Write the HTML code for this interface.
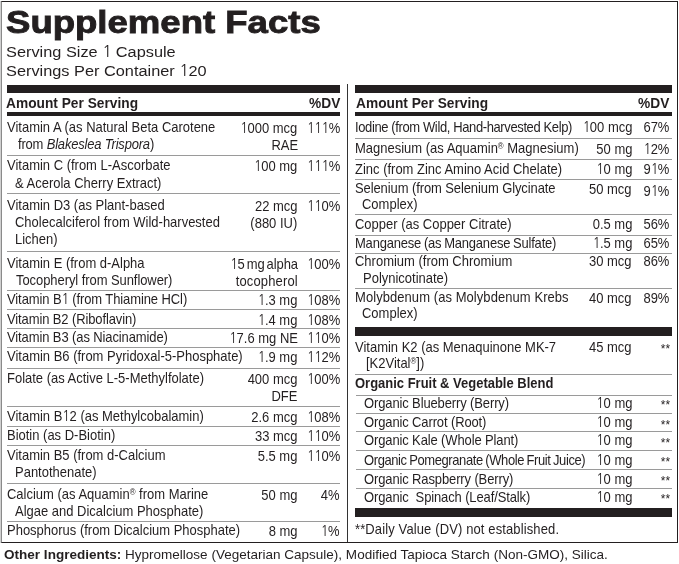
<!DOCTYPE html>
<html><head><meta charset="utf-8"><title>Supplement Facts</title>
<style>
html,body{margin:0;padding:0;background:#fff;}
body{width:679px;height:564px;position:relative;overflow:hidden;font-family:'Liberation Sans', Arial, sans-serif;color:#231f20;}
.t{position:absolute;white-space:nowrap;}
.r{position:absolute;}
.box{position:absolute;left:1px;top:1px;width:675px;height:540px;border:1px solid #231f20;border-left-color:#8a8a8a;box-shadow:-1px 0 0 #d0d0d0;}
.reg{font-size:8.6px;vertical-align:0;position:relative;top:-3.6px;}
.star{font-size:13px;position:relative;top:1.5px;}
.o{font-family:NanumGothic,'Liberation Sans',sans-serif;letter-spacing:-0.0507em;}
</style></head><body>
<div class="box"></div>
<div class="t" style="left:6px;top:6.6px;font-size:31.9px;line-height:31.9px;font-weight:bold;transform:scaleX(1.146);transform-origin:0 0;-webkit-text-stroke:0.9px #231f20;">Supplement Facts</div>
<div class="t" style="left:6px;top:44.13px;font-size:15.2px;line-height:15.2px;transform:scaleX(1.075);transform-origin:0 0;">Serving Size <span class="o">1</span> Capsule</div>
<div class="t" style="left:6px;top:63.13px;font-size:15.2px;line-height:15.2px;transform:scaleX(1.075);transform-origin:0 0;">Servings Per Container <span class="o">1</span>20</div>
<div class="r" style="left:7px;top:85px;width:333px;height:8px;background:#231f20"></div>
<div class="r" style="left:7px;top:112px;width:333px;height:4px;background:#231f20"></div>
<div class="t" style="left:6px;top:95.98px;font-size:14.2px;line-height:14.2px;font-weight:bold;transform:scaleX(0.968);transform-origin:0 0;">Amount Per Serving</div>
<div class="r" style="left:355px;top:85px;width:317px;height:8px;background:#231f20"></div>
<div class="r" style="left:355px;top:112px;width:317px;height:4px;background:#231f20"></div>
<div class="t" style="left:356px;top:95.98px;font-size:14.2px;line-height:14.2px;font-weight:bold;transform:scaleX(0.968);transform-origin:0 0;">Amount Per Serving</div>
<div class="t" style="right:339px;top:95.98px;font-size:14.2px;line-height:14.2px;font-weight:bold;transform:scaleX(0.968);transform-origin:100% 0;">%DV</div>
<div class="t" style="right:9.5px;top:95.98px;font-size:14.2px;line-height:14.2px;font-weight:bold;transform:scaleX(0.968);transform-origin:100% 0;">%DV</div>
<div class="r" style="left:347px;top:84px;width:1px;height:458px;background:#333"></div>
<div class="t" style="left:7px;top:119.98px;font-size:14.2px;line-height:14.2px;transform:scaleX(0.915);transform-origin:0 0;">Vitamin A (as Natural Beta Carotene</div>
<div class="t" style="left:18px;top:136.98px;font-size:14.2px;line-height:14.2px;transform:scaleX(0.915);transform-origin:0 0;letter-spacing:-0.2px;">from <i>Blakeslea Trispora</i>)</div>
<div class="t" style="right:381.3px;top:120.98px;font-size:14.2px;line-height:14.2px;transform:scaleX(0.915);transform-origin:100% 0;"><span class="o">1</span>000 mcg</div>
<div class="t" style="right:381.3px;top:137.98px;font-size:14.2px;line-height:14.2px;transform:scaleX(0.915);transform-origin:100% 0;">RAE</div>
<div class="t" style="right:339px;top:120.98px;font-size:14.2px;line-height:14.2px;transform:scaleX(0.915);transform-origin:100% 0;"><span class="o">1</span><span class="o">1</span><span class="o">1</span>%</div>
<div class="r" style="left:7px;top:155px;width:333px;height:1px;background:#9a9a9a"></div>
<div class="t" style="left:7px;top:157.98px;font-size:14.2px;line-height:14.2px;transform:scaleX(0.915);transform-origin:0 0;">Vitamin C (from L-Ascorbate</div>
<div class="t" style="left:15px;top:175.98px;font-size:14.2px;line-height:14.2px;transform:scaleX(0.915);transform-origin:0 0;">&amp; Acerola Cherry Extract)</div>
<div class="t" style="right:381.3px;top:158.98px;font-size:14.2px;line-height:14.2px;transform:scaleX(0.915);transform-origin:100% 0;"><span class="o">1</span>00 mg</div>
<div class="t" style="right:339px;top:158.98px;font-size:14.2px;line-height:14.2px;transform:scaleX(0.915);transform-origin:100% 0;"><span class="o">1</span><span class="o">1</span><span class="o">1</span>%</div>
<div class="r" style="left:7px;top:193px;width:333px;height:1px;background:#9a9a9a"></div>
<div class="t" style="left:7px;top:197.98px;font-size:14.2px;line-height:14.2px;transform:scaleX(0.915);transform-origin:0 0;">Vitamin D3 (as Plant-based</div>
<div class="t" style="left:15px;top:214.98px;font-size:14.2px;line-height:14.2px;transform:scaleX(0.915);transform-origin:0 0;">Cholecalciferol from Wild-harvested</div>
<div class="t" style="left:15px;top:231.98px;font-size:14.2px;line-height:14.2px;transform:scaleX(0.915);transform-origin:0 0;">Lichen)</div>
<div class="t" style="right:381.3px;top:198.98px;font-size:14.2px;line-height:14.2px;transform:scaleX(0.915);transform-origin:100% 0;">22 mcg</div>
<div class="t" style="right:381.3px;top:215.98px;font-size:14.2px;line-height:14.2px;transform:scaleX(0.915);transform-origin:100% 0;">(880 IU)</div>
<div class="t" style="right:339px;top:198.98px;font-size:14.2px;line-height:14.2px;transform:scaleX(0.915);transform-origin:100% 0;"><span class="o">1</span><span class="o">1</span>0%</div>
<div class="r" style="left:7px;top:251px;width:333px;height:1px;background:#9a9a9a"></div>
<div class="t" style="left:7px;top:255.98px;font-size:14.2px;line-height:14.2px;transform:scaleX(0.915);transform-origin:0 0;">Vitamin E (from d-Alpha</div>
<div class="t" style="left:15.5px;top:272.98px;font-size:14.2px;line-height:14.2px;transform:scaleX(0.915);transform-origin:0 0;letter-spacing:-0.07px;">Tocopheryl from Sunflower)</div>
<div class="t" style="right:381.3px;top:256.98px;font-size:14.2px;line-height:14.2px;transform:scaleX(0.915);transform-origin:100% 0;letter-spacing:-0.1px;word-spacing:-1.6px;"><span class="o">1</span>5 mg alpha</div>
<div class="t" style="right:381.3px;top:273.98px;font-size:14.2px;line-height:14.2px;transform:scaleX(0.915);transform-origin:100% 0;letter-spacing:0.15px;">tocopherol</div>
<div class="t" style="right:339px;top:256.98px;font-size:14.2px;line-height:14.2px;transform:scaleX(0.915);transform-origin:100% 0;"><span class="o">1</span>00%</div>
<div class="r" style="left:7px;top:290px;width:333px;height:1px;background:#9a9a9a"></div>
<div class="t" style="left:7px;top:291.98px;font-size:14.2px;line-height:14.2px;transform:scaleX(0.915);transform-origin:0 0;letter-spacing:-0.1px;">Vitamin B<span class="o">1</span> (from Thiamine HCl)</div>
<div class="t" style="right:381.3px;top:292.98px;font-size:14.2px;line-height:14.2px;transform:scaleX(0.915);transform-origin:100% 0;"><span class="o">1</span>.3 mg</div>
<div class="t" style="right:339px;top:292.98px;font-size:14.2px;line-height:14.2px;transform:scaleX(0.915);transform-origin:100% 0;"><span class="o">1</span>08%</div>
<div class="r" style="left:7px;top:309px;width:333px;height:1px;background:#9a9a9a"></div>
<div class="t" style="left:7px;top:311.98px;font-size:14.2px;line-height:14.2px;transform:scaleX(0.915);transform-origin:0 0;letter-spacing:-0.12px;">Vitamin B2 (Riboflavin)</div>
<div class="t" style="right:381.3px;top:312.98px;font-size:14.2px;line-height:14.2px;transform:scaleX(0.915);transform-origin:100% 0;"><span class="o">1</span>.4 mg</div>
<div class="t" style="right:339px;top:312.98px;font-size:14.2px;line-height:14.2px;transform:scaleX(0.915);transform-origin:100% 0;"><span class="o">1</span>08%</div>
<div class="r" style="left:7px;top:328px;width:333px;height:1px;background:#9a9a9a"></div>
<div class="t" style="left:7px;top:329.98px;font-size:14.2px;line-height:14.2px;transform:scaleX(0.915);transform-origin:0 0;letter-spacing:-0.11px;">Vitamin B3 (as Niacinamide)</div>
<div class="t" style="right:381.3px;top:330.98px;font-size:14.2px;line-height:14.2px;transform:scaleX(0.915);transform-origin:100% 0;"><span class="o">1</span>7.6 mg NE</div>
<div class="t" style="right:339px;top:330.98px;font-size:14.2px;line-height:14.2px;transform:scaleX(0.915);transform-origin:100% 0;"><span class="o">1</span><span class="o">1</span>0%</div>
<div class="r" style="left:7px;top:347px;width:333px;height:1px;background:#9a9a9a"></div>
<div class="t" style="left:7px;top:348.98px;font-size:14.2px;line-height:14.2px;transform:scaleX(0.915);transform-origin:0 0;">Vitamin B6 (from Pyridoxal-5-Phosphate)</div>
<div class="t" style="right:381.3px;top:349.98px;font-size:14.2px;line-height:14.2px;transform:scaleX(0.915);transform-origin:100% 0;"><span class="o">1</span>.9 mg</div>
<div class="t" style="right:339px;top:349.98px;font-size:14.2px;line-height:14.2px;transform:scaleX(0.915);transform-origin:100% 0;"><span class="o">1</span><span class="o">1</span>2%</div>
<div class="r" style="left:7px;top:368px;width:333px;height:1px;background:#9a9a9a"></div>
<div class="t" style="left:7px;top:370.98px;font-size:14.2px;line-height:14.2px;transform:scaleX(0.915);transform-origin:0 0;">Folate (as Active L-5-Methylfolate)</div>
<div class="t" style="right:381.3px;top:371.98px;font-size:14.2px;line-height:14.2px;transform:scaleX(0.915);transform-origin:100% 0;">400 mcg</div>
<div class="t" style="right:381.3px;top:388.98px;font-size:14.2px;line-height:14.2px;transform:scaleX(0.915);transform-origin:100% 0;">DFE</div>
<div class="t" style="right:339px;top:371.98px;font-size:14.2px;line-height:14.2px;transform:scaleX(0.915);transform-origin:100% 0;"><span class="o">1</span>00%</div>
<div class="r" style="left:7px;top:406px;width:333px;height:1px;background:#9a9a9a"></div>
<div class="t" style="left:7px;top:408.98px;font-size:14.2px;line-height:14.2px;transform:scaleX(0.915);transform-origin:0 0;">Vitamin B<span class="o">1</span>2 (as Methylcobalamin)</div>
<div class="t" style="right:381.3px;top:409.98px;font-size:14.2px;line-height:14.2px;transform:scaleX(0.915);transform-origin:100% 0;">2.6 mcg</div>
<div class="t" style="right:339px;top:409.98px;font-size:14.2px;line-height:14.2px;transform:scaleX(0.915);transform-origin:100% 0;"><span class="o">1</span>08%</div>
<div class="r" style="left:7px;top:426px;width:333px;height:1px;background:#9a9a9a"></div>
<div class="t" style="left:7px;top:427.98px;font-size:14.2px;line-height:14.2px;transform:scaleX(0.915);transform-origin:0 0;">Biotin (as D-Biotin)</div>
<div class="t" style="right:381.3px;top:428.98px;font-size:14.2px;line-height:14.2px;transform:scaleX(0.915);transform-origin:100% 0;">33 mcg</div>
<div class="t" style="right:339px;top:428.98px;font-size:14.2px;line-height:14.2px;transform:scaleX(0.915);transform-origin:100% 0;"><span class="o">1</span><span class="o">1</span>0%</div>
<div class="r" style="left:7px;top:445px;width:333px;height:1px;background:#9a9a9a"></div>
<div class="t" style="left:7px;top:447.98px;font-size:14.2px;line-height:14.2px;transform:scaleX(0.915);transform-origin:0 0;">Vitamin B5 (from d-Calcium</div>
<div class="t" style="left:15px;top:464.98px;font-size:14.2px;line-height:14.2px;transform:scaleX(0.915);transform-origin:0 0;">Pantothenate)</div>
<div class="t" style="right:381.3px;top:448.98px;font-size:14.2px;line-height:14.2px;transform:scaleX(0.915);transform-origin:100% 0;">5.5 mg</div>
<div class="t" style="right:339px;top:448.98px;font-size:14.2px;line-height:14.2px;transform:scaleX(0.915);transform-origin:100% 0;"><span class="o">1</span><span class="o">1</span>0%</div>
<div class="r" style="left:7px;top:483px;width:333px;height:1px;background:#9a9a9a"></div>
<div class="t" style="left:7px;top:486.98px;font-size:14.2px;line-height:14.2px;transform:scaleX(0.915);transform-origin:0 0;">Calcium (as Aquamin<sup class="reg">®</sup> from Marine</div>
<div class="t" style="left:15px;top:503.98px;font-size:14.2px;line-height:14.2px;transform:scaleX(0.915);transform-origin:0 0;">Algae and Dicalcium Phosphate)</div>
<div class="t" style="right:381.3px;top:487.98px;font-size:14.2px;line-height:14.2px;transform:scaleX(0.915);transform-origin:100% 0;">50 mg</div>
<div class="t" style="right:339px;top:487.98px;font-size:14.2px;line-height:14.2px;transform:scaleX(0.915);transform-origin:100% 0;">4%</div>
<div class="r" style="left:7px;top:521px;width:333px;height:1px;background:#9a9a9a"></div>
<div class="t" style="left:7px;top:522.98px;font-size:14.2px;line-height:14.2px;transform:scaleX(0.915);transform-origin:0 0;">Phosphorus (from Dicalcium Phosphate)</div>
<div class="t" style="right:381.3px;top:523.98px;font-size:14.2px;line-height:14.2px;transform:scaleX(0.915);transform-origin:100% 0;">8 mg</div>
<div class="t" style="right:339px;top:523.98px;font-size:14.2px;line-height:14.2px;transform:scaleX(0.915);transform-origin:100% 0;"><span class="o">1</span>%</div>
<div class="t" style="left:355px;top:119.98px;font-size:14.2px;line-height:14.2px;transform:scaleX(0.915);transform-origin:0 0;letter-spacing:-0.41px;">Iodine (from Wild, Hand-harvested Kelp)</div>
<div class="t" style="right:47px;top:119.98px;font-size:14.2px;line-height:14.2px;transform:scaleX(0.915);transform-origin:100% 0;"><span class="o">1</span>00 mcg</div>
<div class="t" style="right:10px;top:119.98px;font-size:14.2px;line-height:14.2px;transform:scaleX(0.915);transform-origin:100% 0;">67%</div>
<div class="r" style="left:355px;top:138px;width:317px;height:1px;background:#9a9a9a"></div>
<div class="t" style="left:355px;top:140.98px;font-size:14.2px;line-height:14.2px;transform:scaleX(0.915);transform-origin:0 0;">Magnesium (as Aquamin<sup class="reg">®</sup> Magnesium)</div>
<div class="t" style="right:47px;top:141.98px;font-size:14.2px;line-height:14.2px;transform:scaleX(0.915);transform-origin:100% 0;">50 mg</div>
<div class="t" style="right:10px;top:141.98px;font-size:14.2px;line-height:14.2px;transform:scaleX(0.915);transform-origin:100% 0;"><span class="o">1</span>2%</div>
<div class="r" style="left:355px;top:159px;width:317px;height:1px;background:#9a9a9a"></div>
<div class="t" style="left:355px;top:161.98px;font-size:14.2px;line-height:14.2px;transform:scaleX(0.915);transform-origin:0 0;">Zinc (from Zinc Amino Acid Chelate)</div>
<div class="t" style="right:47px;top:161.98px;font-size:14.2px;line-height:14.2px;transform:scaleX(0.915);transform-origin:100% 0;"><span class="o">1</span>0 mg</div>
<div class="t" style="right:10px;top:161.98px;font-size:14.2px;line-height:14.2px;transform:scaleX(0.915);transform-origin:100% 0;">9<span class="o">1</span>%</div>
<div class="r" style="left:355px;top:179px;width:317px;height:1px;background:#9a9a9a"></div>
<div class="t" style="left:355px;top:180.98px;font-size:14.2px;line-height:14.2px;transform:scaleX(0.915);transform-origin:0 0;letter-spacing:-0.1px;">Selenium (from Selenium Glycinate</div>
<div class="t" style="left:362px;top:196.98px;font-size:14.2px;line-height:14.2px;transform:scaleX(0.915);transform-origin:0 0;">Complex)</div>
<div class="t" style="right:47px;top:181.98px;font-size:14.2px;line-height:14.2px;transform:scaleX(0.915);transform-origin:100% 0;">50 mcg</div>
<div class="t" style="right:10px;top:183.98px;font-size:14.2px;line-height:14.2px;transform:scaleX(0.915);transform-origin:100% 0;">9<span class="o">1</span>%</div>
<div class="r" style="left:355px;top:214px;width:317px;height:1px;background:#9a9a9a"></div>
<div class="t" style="left:355px;top:216.98px;font-size:14.2px;line-height:14.2px;transform:scaleX(0.915);transform-origin:0 0;">Copper (as Copper Citrate)</div>
<div class="t" style="right:47px;top:216.98px;font-size:14.2px;line-height:14.2px;transform:scaleX(0.915);transform-origin:100% 0;">0.5 mg</div>
<div class="t" style="right:10px;top:216.98px;font-size:14.2px;line-height:14.2px;transform:scaleX(0.915);transform-origin:100% 0;">56%</div>
<div class="r" style="left:355px;top:235px;width:317px;height:1px;background:#9a9a9a"></div>
<div class="t" style="left:355px;top:235.98px;font-size:14.2px;line-height:14.2px;transform:scaleX(0.915);transform-origin:0 0;letter-spacing:-0.22px;word-spacing:-0.6px;">Manganese (as Manganese Sulfate)</div>
<div class="t" style="right:47px;top:235.98px;font-size:14.2px;line-height:14.2px;transform:scaleX(0.915);transform-origin:100% 0;"><span class="o">1</span>.5 mg</div>
<div class="t" style="right:10px;top:235.98px;font-size:14.2px;line-height:14.2px;transform:scaleX(0.915);transform-origin:100% 0;">65%</div>
<div class="r" style="left:355px;top:253px;width:317px;height:1px;background:#9a9a9a"></div>
<div class="t" style="left:355px;top:253.98px;font-size:14.2px;line-height:14.2px;transform:scaleX(0.915);transform-origin:0 0;">Chromium (from Chromium</div>
<div class="t" style="left:363px;top:270.98px;font-size:14.2px;line-height:14.2px;transform:scaleX(0.915);transform-origin:0 0;">Polynicotinate)</div>
<div class="t" style="right:47px;top:253.98px;font-size:14.2px;line-height:14.2px;transform:scaleX(0.915);transform-origin:100% 0;">30 mcg</div>
<div class="t" style="right:10px;top:253.98px;font-size:14.2px;line-height:14.2px;transform:scaleX(0.915);transform-origin:100% 0;">86%</div>
<div class="r" style="left:355px;top:288px;width:317px;height:1px;background:#9a9a9a"></div>
<div class="t" style="left:355px;top:289.98px;font-size:14.2px;line-height:14.2px;transform:scaleX(0.915);transform-origin:0 0;letter-spacing:0.08px;">Molybdenum (as Molybdenum Krebs</div>
<div class="t" style="left:362px;top:305.98px;font-size:14.2px;line-height:14.2px;transform:scaleX(0.915);transform-origin:0 0;">Complex)</div>
<div class="t" style="right:47px;top:290.98px;font-size:14.2px;line-height:14.2px;transform:scaleX(0.915);transform-origin:100% 0;">40 mcg</div>
<div class="t" style="right:10px;top:290.98px;font-size:14.2px;line-height:14.2px;transform:scaleX(0.915);transform-origin:100% 0;">89%</div>
<div class="r" style="left:355px;top:327px;width:317px;height:9px;background:#231f20"></div>
<div class="t" style="left:355px;top:339.98px;font-size:14.2px;line-height:14.2px;transform:scaleX(0.915);transform-origin:0 0;">Vitamin K2 (as Menaquinone MK-7</div>
<div class="t" style="left:366.2px;top:355.98px;font-size:14.2px;line-height:14.2px;transform:scaleX(0.915);transform-origin:0 0;">[K2Vital<sup class="reg">®</sup>])</div>
<div class="t" style="right:47px;top:339.98px;font-size:14.2px;line-height:14.2px;transform:scaleX(0.915);transform-origin:100% 0;">45 mcg</div>
<div class="t" style="right:9px;top:339.98px;font-size:14.2px;line-height:14.2px;transform:scaleX(0.915);transform-origin:100% 0;"><span class="star">**</span></div>
<div class="r" style="left:355px;top:374px;width:317px;height:1px;background:#9a9a9a"></div>
<div class="t" style="left:355px;top:375.98px;font-size:14.2px;line-height:14.2px;font-weight:bold;transform:scaleX(0.915);transform-origin:0 0;">Organic Fruit &amp; Vegetable Blend</div>
<div class="r" style="left:356px;top:395px;width:316px;height:1px;background:#9a9a9a"></div>
<div class="t" style="left:364px;top:395.98px;font-size:14.2px;line-height:14.2px;transform:scaleX(0.915);transform-origin:0 0;letter-spacing:-0.13px;">Organic Blueberry (Berry)</div>
<div class="t" style="right:47px;top:395.98px;font-size:14.2px;line-height:14.2px;transform:scaleX(0.915);transform-origin:100% 0;"><span class="o">1</span>0 mg</div>
<div class="t" style="right:9px;top:395.98px;font-size:14.2px;line-height:14.2px;transform:scaleX(0.915);transform-origin:100% 0;"><span class="star">**</span></div>
<div class="r" style="left:356px;top:413px;width:316px;height:1px;background:#9a9a9a"></div>
<div class="t" style="left:364px;top:415.48px;font-size:14.2px;line-height:14.2px;transform:scaleX(0.915);transform-origin:0 0;letter-spacing:-0.13px;">Organic Carrot (Root)</div>
<div class="t" style="right:47px;top:415.48px;font-size:14.2px;line-height:14.2px;transform:scaleX(0.915);transform-origin:100% 0;"><span class="o">1</span>0 mg</div>
<div class="t" style="right:9px;top:415.48px;font-size:14.2px;line-height:14.2px;transform:scaleX(0.915);transform-origin:100% 0;"><span class="star">**</span></div>
<div class="r" style="left:356px;top:431px;width:316px;height:1px;background:#9a9a9a"></div>
<div class="t" style="left:364px;top:433.48px;font-size:14.2px;line-height:14.2px;transform:scaleX(0.915);transform-origin:0 0;letter-spacing:-0.13px;">Organic Kale (Whole Plant)</div>
<div class="t" style="right:47px;top:433.48px;font-size:14.2px;line-height:14.2px;transform:scaleX(0.915);transform-origin:100% 0;"><span class="o">1</span>0 mg</div>
<div class="t" style="right:9px;top:433.48px;font-size:14.2px;line-height:14.2px;transform:scaleX(0.915);transform-origin:100% 0;"><span class="star">**</span></div>
<div class="r" style="left:356px;top:450px;width:316px;height:1px;background:#9a9a9a"></div>
<div class="t" style="left:364px;top:452.98px;font-size:14.2px;line-height:14.2px;transform:scaleX(0.915);transform-origin:0 0;letter-spacing:-0.43px;word-spacing:-0.8px;">Organic Pomegranate (Whole Fruit Juice)</div>
<div class="t" style="right:47px;top:452.98px;font-size:14.2px;line-height:14.2px;transform:scaleX(0.915);transform-origin:100% 0;"><span class="o">1</span>0 mg</div>
<div class="t" style="right:9px;top:452.98px;font-size:14.2px;line-height:14.2px;transform:scaleX(0.915);transform-origin:100% 0;"><span class="star">**</span></div>
<div class="r" style="left:356px;top:469px;width:316px;height:1px;background:#9a9a9a"></div>
<div class="t" style="left:364px;top:471.58px;font-size:14.2px;line-height:14.2px;transform:scaleX(0.915);transform-origin:0 0;letter-spacing:-0.13px;">Organic Raspberry (Berry)</div>
<div class="t" style="right:47px;top:471.58px;font-size:14.2px;line-height:14.2px;transform:scaleX(0.915);transform-origin:100% 0;"><span class="o">1</span>0 mg</div>
<div class="t" style="right:9px;top:471.58px;font-size:14.2px;line-height:14.2px;transform:scaleX(0.915);transform-origin:100% 0;"><span class="star">**</span></div>
<div class="r" style="left:356px;top:488px;width:316px;height:1px;background:#9a9a9a"></div>
<div class="t" style="left:364px;top:489.98px;font-size:14.2px;line-height:14.2px;transform:scaleX(0.915);transform-origin:0 0;letter-spacing:-0.13px;">Organic&nbsp; Spinach (Leaf/Stalk)</div>
<div class="t" style="right:47px;top:489.98px;font-size:14.2px;line-height:14.2px;transform:scaleX(0.915);transform-origin:100% 0;"><span class="o">1</span>0 mg</div>
<div class="t" style="right:9px;top:489.98px;font-size:14.2px;line-height:14.2px;transform:scaleX(0.915);transform-origin:100% 0;"><span class="star">**</span></div>
<div class="r" style="left:355px;top:508.4px;width:317px;height:8.5px;background:#231f20"></div>
<div class="t" style="left:355px;top:521.98px;font-size:14.2px;line-height:14.2px;transform:scaleX(0.915);transform-origin:0 0;letter-spacing:0.14px;">**Daily Value (DV) not established.</div>
<div class="t" style="left:4px;top:547.57px;font-size:13.5px;line-height:13.5px;font-weight:bold;transform:scaleX(1.003);transform-origin:0 0;">Other Ingredients:</div>
<div class="t" style="left:125px;top:547.74px;font-size:13.3px;line-height:13.3px;transform:scaleX(1.0165);transform-origin:0 0;">Hypromellose (Vegetarian Capsule), Modified Tapioca Starch (Non-GMO), Silica.</div>
</body></html>
